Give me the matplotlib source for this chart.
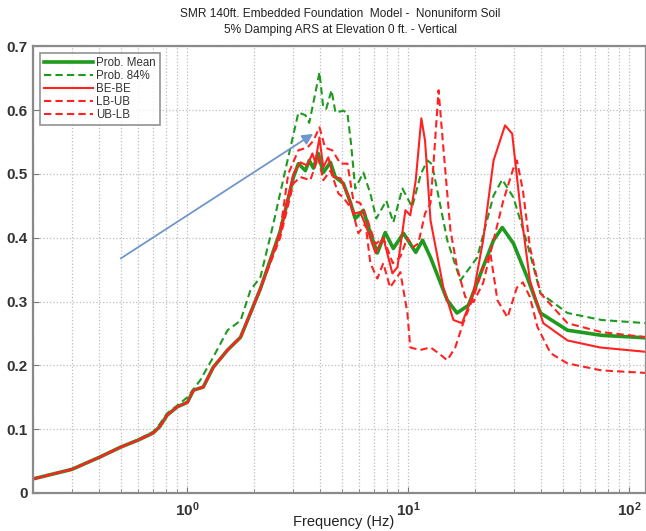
import numpy as np
import matplotlib
matplotlib.use("Agg")
import matplotlib.pyplot as plt
from matplotlib.ticker import LogLocator, NullFormatter, FixedLocator

plt.rcParams["font.family"] = ["Liberation Sans", "DejaVu Sans"]
plt.rcParams["mathtext.fontset"] = "custom"
plt.rcParams["mathtext.rm"] = "Liberation Sans:bold"

# ── Data ────────────────────────────────────────────────────
low_f = [0.2, 0.3, 0.4, 0.5, 0.6, 0.7, 0.75, 0.81, 0.9, 1.0, 1.065, 1.18,
         1.31, 1.52, 1.74, 1.93, 2.14]
low_v = [0.022, 0.037, 0.056, 0.072, 0.083, 0.094, 0.104, 0.122, 0.135,
         0.142, 0.161, 0.166, 0.197, 0.224, 0.244, 0.282, 0.32]

mean_f = low_f + [2.63, 3.02, 3.18, 3.42, 3.56, 3.72, 3.91, 4.12, 4.44, 4.67,
                  5.08, 5.47, 5.75, 6.26, 6.73, 7.24, 7.86, 8.55, 9.5, 10.8,
                  11.6, 12.6, 15.0, 16.6, 18.7, 21.8, 24.3, 26.6, 29.9, 34.5,
                  39.6, 52.5, 75.0, 120.0]
mean_v = low_v + [0.41, 0.495, 0.516, 0.505, 0.521, 0.509, 0.532, 0.502,
                  0.518, 0.495, 0.485, 0.455, 0.43, 0.443, 0.407, 0.376,
                  0.408, 0.383, 0.407, 0.377, 0.396, 0.369, 0.302, 0.282,
                  0.294, 0.354, 0.396, 0.416, 0.391, 0.338, 0.282, 0.255,
                  0.247, 0.243]

p84_f = [0.2, 0.3, 0.4, 0.5, 0.6, 0.7, 0.75, 0.81, 0.9, 1.0, 1.145, 1.31,
         1.52, 1.74, 1.93, 2.14, 2.45, 2.86, 3.18, 3.42, 3.56, 3.72, 3.96,
         4.12, 4.25, 4.49, 4.68, 5.08, 5.3, 5.5, 5.75, 6.26, 6.73, 7.16,
         7.95, 8.55, 9.4, 10.4, 11.4, 12.2, 12.8, 15.0, 17.2, 20.5, 24.3,
         26.6, 29.9, 34.5, 39.6, 52.5, 75.0, 120.0]
p84_v = [0.022, 0.037, 0.056, 0.072, 0.084, 0.096, 0.108, 0.125, 0.137,
         0.15, 0.177, 0.213, 0.255, 0.27, 0.318, 0.338, 0.422, 0.526, 0.596,
         0.592, 0.58, 0.612, 0.659, 0.604, 0.602, 0.631, 0.596, 0.599, 0.595,
         0.548, 0.477, 0.502, 0.469, 0.43, 0.458, 0.424, 0.477, 0.448, 0.5,
         0.521, 0.515, 0.396, 0.333, 0.369, 0.466, 0.491, 0.463, 0.391, 0.313,
         0.282, 0.271, 0.266]

bebe_f = low_f + [2.63, 3.02, 3.25, 3.49, 3.68, 3.79, 3.96, 4.12, 4.34, 4.58,
                  4.93, 5.3, 5.64, 6.06, 6.53, 7.1, 7.7, 8.47, 8.93, 9.7,
                  10.2, 10.8, 11.45, 11.9, 12.6, 14.4, 16.0, 17.5, 19.7,
                  21.8, 24.3, 27.4, 29.5, 32.1, 35.5, 40.8, 52.5, 73.7, 120.0]
bebe_v = low_v + [0.407, 0.50, 0.518, 0.513, 0.532, 0.518, 0.557, 0.51,
                  0.526, 0.495, 0.493, 0.469, 0.438, 0.44, 0.412, 0.376,
                  0.40, 0.344, 0.354, 0.443, 0.435, 0.49, 0.587, 0.552,
                  0.427, 0.322, 0.271, 0.266, 0.313, 0.396, 0.521, 0.576,
                  0.563, 0.448, 0.333, 0.266, 0.239, 0.228, 0.221]

lbub_f = low_f + [2.63, 2.86, 3.18, 3.49, 3.72, 3.96, 4.2, 4.52, 4.93, 5.3,
                  5.64, 6.06, 6.5, 7.1, 7.7, 8.5, 9.2, 9.9, 10.5, 11.1, 11.9,
                  12.6, 13.0, 13.7, 14.4, 15.5, 16.6, 18.1, 19.7, 21.8, 24.3,
                  26.9, 29.9, 31.0, 33.0, 35.5, 39.6, 52.5, 75.0, 120.0]
lbub_v = low_v + [0.41, 0.50, 0.537, 0.541, 0.552, 0.573, 0.541, 0.537,
                  0.516, 0.516, 0.458, 0.454, 0.43, 0.39, 0.40, 0.36, 0.37,
                  0.40, 0.385, 0.391, 0.438, 0.454, 0.516, 0.631, 0.541,
                  0.412, 0.354, 0.307, 0.299, 0.329, 0.396, 0.458, 0.509,
                  0.521, 0.474, 0.385, 0.313, 0.266, 0.252, 0.244]

ublb_f = low_f + [2.63, 3.02, 3.25, 3.6, 3.91, 4.12, 4.44, 4.83, 5.08, 5.58,
                  5.94, 6.4, 6.73, 7.24, 7.7, 8.27, 9.2, 9.9, 10.2, 11.3,
                  12.6, 13.7, 15.0, 16.3, 17.7, 19.7, 21.8, 23.5, 25.3, 28.1,
                  31.0, 33.0, 35.5, 38.4, 44.0, 52.5, 75.0, 120.0]
ublb_v = low_v + [0.40, 0.485, 0.495, 0.49, 0.526, 0.49, 0.505, 0.469,
                  0.463, 0.443, 0.407, 0.422, 0.36, 0.336, 0.36, 0.322,
                  0.346, 0.282, 0.228, 0.224, 0.228, 0.219, 0.208, 0.228,
                  0.266, 0.307, 0.354, 0.376, 0.302, 0.275, 0.322, 0.33,
                  0.307, 0.26, 0.219, 0.203, 0.192, 0.188]

GREEN = "#1f9a1f"
RED = "#ff2222"

# ── Figure ──────────────────────────────────────────────────
fig = plt.figure(figsize=(6.46, 5.31), dpi=100)
ax = fig.add_axes([0.051, 0.0716, 0.949, 0.8414])

dash = (0, (3.5, 2))
ax.semilogx(mean_f, mean_v, color=GREEN, lw=2.6, label="Prob. Mean")
ax.semilogx(p84_f, p84_v, color=GREEN, lw=1.5, ls=dash, label="Prob. 84%")
ax.semilogx(bebe_f, bebe_v, color=RED, lw=1.5, label="BE-BE")
ax.semilogx(lbub_f, lbub_v, color=RED, lw=1.5, ls=dash, label="LB-UB")
ax.semilogx(ublb_f, ublb_v, color=RED, lw=1.5, ls=dash, label="UB-LB")

ax.set_xlim(0.2, 119)
ax.set_ylim(0, 0.7)
ax.set_yticks(np.arange(0, 0.71, 0.1))
ax.set_yticklabels(["0", "0.1", "0.2", "0.3", "0.4", "0.5", "0.6", "0.7"])
ax.xaxis.set_major_locator(FixedLocator([1, 10, 100]))
ax.set_xticklabels([r"$\mathregular{10^0}$", r"$\mathregular{10^1}$",
                    r"$\mathregular{10^2}$"])
ax.xaxis.set_minor_locator(LogLocator(base=10, subs=np.arange(2, 10)))
ax.xaxis.set_minor_formatter(NullFormatter())

ax.grid(True, which="both", axis="x", color="#bdbdbd", ls=":", lw=0.9)
ax.grid(True, which="major", axis="y", color="#bdbdbd", ls=":", lw=0.9)
ax.tick_params(which="both", direction="in", colors="#777777",
               labelcolor="#333333", labelsize=11)
ax.tick_params(which="major", length=4)
ax.tick_params(which="minor", length=3)
ax.tick_params(axis="x", pad=5)
ax.tick_params(axis="y", pad=4)
for lab in ax.get_yticklabels() + ax.get_xticklabels():
    lab.set_fontweight("bold")
for sp in ax.spines.values():
    sp.set_color("#8a8a8a")
    sp.set_linewidth(1.6)

fig.text(0.532, 0.004, "Frequency (Hz)", ha="center", va="bottom",
         fontsize=10.5, color="#222222")
fig.text(0.527, 0.985,
         "SMR 140ft. Embedded Foundation  Model -  Nonuniform Soil\n"
         "5% Damping ARS at Elevation 0 ft. - Vertical",
         ha="center", va="top", fontsize=8.6, color="#222222",
         linespacing=1.45)

leg = ax.legend(loc="upper left", bbox_to_anchor=(0.006, 0.993),
                fontsize=8.3, frameon=True, fancybox=False,
                handlelength=4.2, handletextpad=0.3, labelspacing=0.1,
                borderpad=0.35, borderaxespad=0.3)
leg.get_frame().set_edgecolor("#777777")
leg.get_frame().set_linewidth(1.2)
for t in leg.get_texts():
    t.set_color("#333333")

ax.annotate("", xy=(3.8, 0.565), xytext=(0.487, 0.365),
            arrowprops=dict(arrowstyle="-|>", color="#7096cc", lw=1.3,
                            mutation_scale=16))

fig.savefig("out.png", dpi=100)
